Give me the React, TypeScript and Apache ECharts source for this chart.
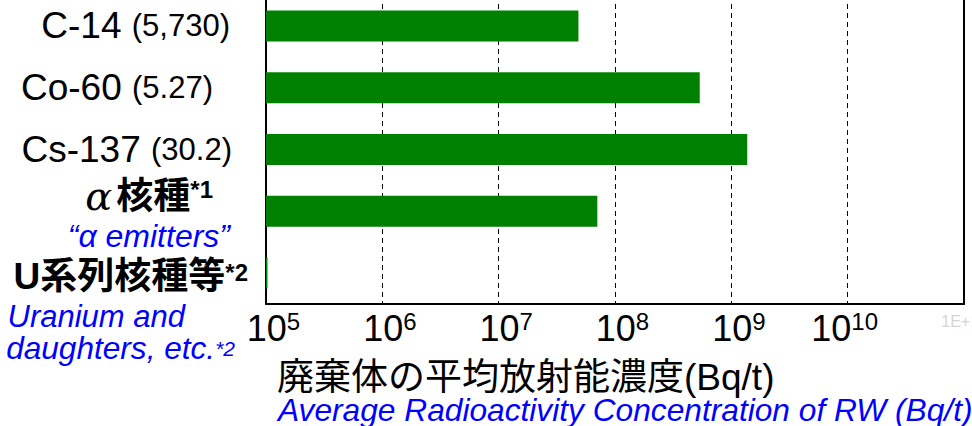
import React, { useEffect, useRef } from "react";
import * as echarts from "echarts";

const categories = ["C-14", "Co-60", "Cs-137", "α核種", "U系列核種等"];
const halfLives = ["(5,730)", "(5.27)", "(30.2)", "", ""];
const footnoteMarks = ["", "", "", "*1", "*2"];
const englishNames = ["", "", "", "“α emitters”", "Uranium and|daughters, etc."];
const concentrations = [4.85e7, 5.35e8, 1.37e9, 7.05e7, 1.03e5];
const axisMin = 1e5;
const axisMax = 1e11;
const axisTitleJa = "廃棄体の平均放射能濃度(Bq/t)";
const axisTitleEn = "Average Radioactivity Concentration of RW (Bq/t)";

const SANS = "'Liberation Sans', Arial, 'Noto Sans CJK JP', sans-serif";

function yLabel(_value: string, index: number): string {
  const cat = categories[index];
  if (index <= 2) {
    return `{n|${cat} }{h${index}|${halfLives[index]}}`;
  }
  if (index === 3) {
    return `{ga|${cat.slice(0, 1)}}{jb|${cat.slice(1)}}{s3|${footnoteMarks[3]}}\n{e3|${englishNames[3]}}`;
  }
  const [l1, l2] = englishNames[4].split("|");
  return `{gap| }\n{jb4|${cat}}{s4|${footnoteMarks[4]}}\n{e4a|${l1}}\n{e4b|${l2}}{es|${footnoteMarks[4]}}`;
}

function xLabel(value: number): string {
  const e = Math.round(Math.log10(value));
  if (e >= 11) return `{faint|1E+${e}}`;
  if (e >= 10) return `{b|10}{sr|${e}}`;
  return `{bp|10}{s|${e}}`;
}

export default function App() {
  const ref = useRef<HTMLDivElement>(null);
  useEffect(() => {
    if (!ref.current) return;
    const chart = echarts.init(ref.current, undefined, { renderer: "svg" });
    const blue = "#0000FF";
    chart.setOption({
      animation: false,
      backgroundColor: "#ffffff",
      grid: { left: 266, right: 8, top: -5, bottom: 122, outerBoundsMode: "none", containLabel: false },
      xAxis: {
        type: "log",
        logBase: 10,
        min: axisMin,
        max: axisMax,
        interval: 1,
        axisLine: { show: true, lineStyle: { color: "#000", width: 2 } },
        axisTick: { show: false },
        splitLine: { show: true, lineStyle: { color: "#000", width: 1, type: [5, 4] } },
        axisLabel: {
          margin: 6,
          showMinLabel: true,
          showMaxLabel: true,
          formatter: xLabel,
          rich: {
            b: { fontFamily: SANS, fontSize: 36, lineHeight: 36, color: "#000" },
            bp: { fontFamily: SANS, fontSize: 36, lineHeight: 36, color: "#000", padding: [0, 0, 0, 15] },
            s: { fontFamily: SANS, fontSize: 24, lineHeight: 36, color: "#000", padding: [0, 0, 14, 0] },
            sr: { fontFamily: SANS, fontSize: 24, lineHeight: 36, color: "#000", padding: [0, 6, 14, 0] },
            faint: { fontFamily: SANS, fontSize: 16, lineHeight: 36, color: "#d4d4d4", padding: [0, 0, 14, 0] },
          },
        },
      },
      yAxis: [
        {
          type: "category",
          data: categories,
          inverse: true,
          axisLine: { show: true, lineStyle: { color: "#000", width: 2 } },
          axisTick: { show: false },
          splitLine: { show: false },
          axisLabel: {
            interval: 0,
            margin: 18,
            align: "right",
            verticalAlign: "middle",
            formatter: yLabel,
            rich: {
              n: { fontFamily: SANS, fontSize: 37, lineHeight: 40, color: "#000" },
              h0: { fontFamily: SANS, fontSize: 31, lineHeight: 40, color: "#000", padding: [0, 18, 0, 0] },
              h1: { fontFamily: SANS, fontSize: 31, lineHeight: 40, color: "#000", padding: [0, 35, 0, 0] },
              h2: { fontFamily: SANS, fontSize: 31, lineHeight: 40, color: "#000", padding: [0, 16, 0, 0] },
              ga: { fontFamily: "'DejaVu Serif', 'Liberation Serif', serif", fontStyle: "italic", fontSize: 40, lineHeight: 50, color: "#000", padding: [0, 4, 0, 0] },
              jb: { fontFamily: SANS, fontWeight: "bold", fontSize: 37, lineHeight: 50, color: "#000" },
              s3: { fontFamily: SANS, fontWeight: "bold", fontSize: 24, lineHeight: 50, color: "#000", padding: [0, 35, 14, 0] },
              e3: { fontFamily: SANS, fontStyle: "italic", fontSize: 32, lineHeight: 30, color: blue, padding: [0, 18, 0, 0] },
              gap: { fontFamily: SANS, fontSize: 10, lineHeight: 70, color: "#000" },
              jb4: { fontFamily: SANS, fontWeight: "bold", fontSize: 37, lineHeight: 48, color: "#000" },
              s4: { fontFamily: SANS, fontWeight: "bold", fontSize: 24, lineHeight: 48, color: "#000", padding: [0, 0, 8, 0] },
              e4a: { fontFamily: SANS, fontStyle: "italic", fontSize: 31, lineHeight: 32, color: blue, padding: [0, 63, 0, 0] },
              e4b: { fontFamily: SANS, fontStyle: "italic", fontSize: 31.6, lineHeight: 32, color: blue },
              es: { fontFamily: SANS, fontStyle: "italic", fontSize: 21, lineHeight: 32, color: blue, padding: [0, 13, 0, 0] },
            },
          },
        },
        {
          type: "category",
          data: categories,
          inverse: true,
          position: "right",
          axisLine: { show: true, lineStyle: { color: "#000", width: 2 } },
          axisTick: { show: false },
          axisLabel: { show: false },
          splitLine: { show: false },
        },
      ],
      series: [
        {
          type: "bar",
          yAxisIndex: 0,
          data: concentrations,
          barWidth: 31,
          clip: true,
          itemStyle: { color: "#008000" },
        },
      ],
      graphic: [
        {
          type: "text",
          left: 277,
          top: 359,
          style: {
            text: axisTitleJa,
            fontFamily: SANS,
            fontSize: 37,
            lineHeight: 30,
            fill: "#000",
          },
        },
        {
          type: "text",
          left: 278,
          top: 394,
          style: {
            text: axisTitleEn,
            fontFamily: SANS,
            fontStyle: "italic",
            fontSize: 31.7,
            lineHeight: 28,
            fill: blue,
          },
        },
      ],
    });
    return () => chart.dispose();
  }, []);
  return (
    <div
      ref={ref}
      style={{ position: "fixed", left: 0, top: 0, width: 972, height: 426, background: "#fff" }}
    />
  );
}
